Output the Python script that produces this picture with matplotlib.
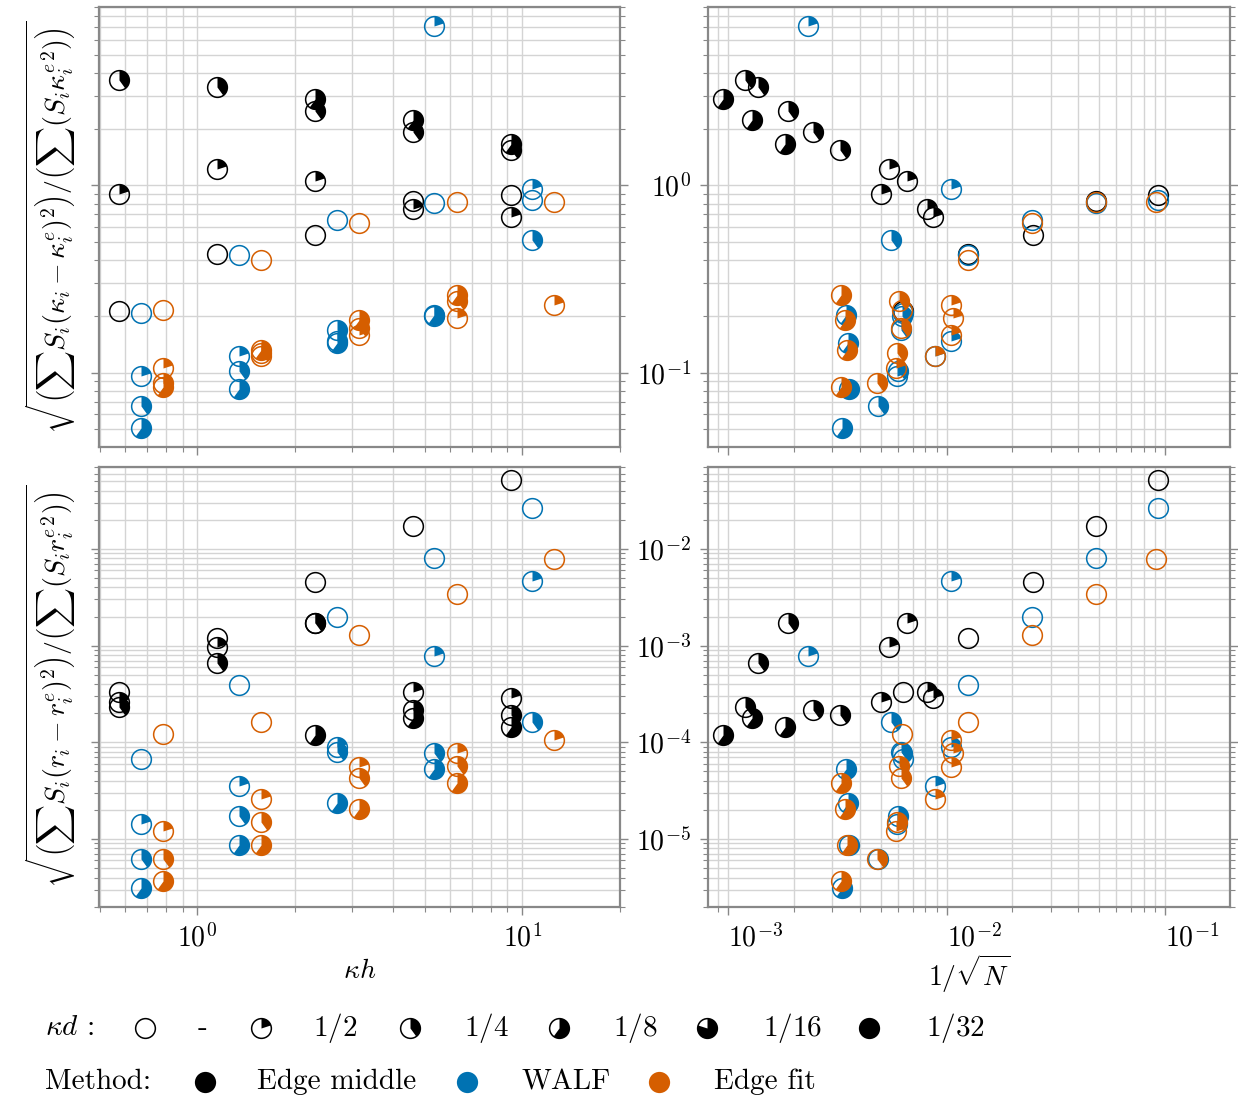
import numpy as np
import matplotlib
matplotlib.use('Agg')
import matplotlib.pyplot as plt
from matplotlib.path import Path
from matplotlib.ticker import NullFormatter

plt.rcParams['font.family'] = 'serif'
plt.rcParams['font.serif'] = ['cmr10']
plt.rcParams['mathtext.fontset'] = 'cm'
plt.rcParams['axes.formatter.use_mathtext'] = True
plt.rcParams['font.size'] = 20

# ---- data -------------------------------------------------------------
kd_labels = ['-', '$1/2$', '$1/4$', '$1/8$', '$1/16$', '$1/32$']
method_names = ['Edge middle', 'WALF', 'Edge fit']
method_colors = ['black', '#0072B2', '#D55E00']
kh_dodge = [1.0, 1.166, 1.364]  # horizontal shift of each method in the left panels

# Edge middle
em_kh = [0.575, 0.575, 0.575, 1.15, 1.15, 1.15, 2.3, 2.3, 2.3, 2.3,
         4.6, 4.6, 4.6, 4.6, 9.2, 9.2, 9.2, 9.2]
em_kd = [0, 1, 2, 0, 1, 2, 0, 1, 2, 3, 0, 1, 2, 3, 0, 1, 2, 3]
em_invN = [6.3e-3, 5.03e-3, 1.19e-3, 1.25e-2, 5.45e-3, 1.37e-3,
           2.48e-2, 6.59e-3, 1.87e-3, 9.47e-4, 4.84e-2, 8.16e-3, 2.44e-3, 1.29e-3,
           9.3e-2, 8.71e-3, 3.24e-3, 1.81e-3]
em_curv = [0.214, 0.902, 3.67, 0.431, 1.23, 3.36, 0.541, 1.05, 2.51, 2.91,
           0.821, 0.747, 1.92, 2.24, 0.89, 0.677, 1.55, 1.67]
em_pos = [3.34e-4, 2.6e-4, 2.31e-4, 1.21e-3, 9.6e-4, 6.6e-4,
          4.59e-3, 1.7e-3, 1.7e-3, 1.19e-4, 1.73e-2, 3.34e-4, 2.14e-4, 1.77e-4,
          5.16e-2, 2.86e-4, 1.92e-4, 1.45e-4]

# WALF
wa_kh = [0.575] * 4 + [1.15] * 4 + [2.3] * 4 + [4.6] * 4 + [9.2] * 3
wa_kd = [0, 1, 2, 3] * 4 + [0, 1, 2]
wa_invN = [6.3e-3, 5.93e-3, 4.84e-3, 3.31e-3,
           1.26e-2, 8.86e-3, 5.97e-3, 3.57e-3,
           2.45e-2, 1.048e-2, 6.19e-3, 3.55e-3,
           4.84e-2, 2.32e-3, 6.23e-3, 3.45e-3,
           9.3e-2, 1.048e-2, 5.59e-3]
wa_curv = [0.209, 0.0964, 0.0667, 0.0508,
           0.426, 0.123, 0.102, 0.0818,
           0.655, 0.148, 0.169, 0.144,
           0.805, 7.08, 0.200, 0.202,
           0.838, 0.957, 0.508]
wa_pos = [6.73e-5, 1.42e-5, 6.22e-6, 3.1e-6,
          3.93e-4, 3.57e-5, 1.71e-5, 8.7e-6,
          2.0e-3, 9.04e-5, 8.0e-5, 2.34e-5,
          8.13e-3, 7.8e-4, 7.7e-5, 5.27e-5,
          2.67e-2, 4.7e-3, 1.64e-4]

# Edge fit
ef_kh = [0.575] * 4 + [1.15] * 4 + [2.3] * 4 + [4.6] * 4 + [9.2] * 2
ef_kd = [0, 1, 2, 3] * 4 + [0, 1]
ef_invN = [6.27e-3, 5.89e-3, 4.81e-3, 3.29e-3,
           1.25e-2, 8.87e-3, 5.93e-3, 3.49e-3,
           2.47e-2, 1.05e-2, 6.21e-3, 3.44e-3,
           4.84e-2, 1.07e-2, 6.06e-3, 3.29e-3,
           9.07e-2, 1.05e-2]
ef_curv = [0.215, 0.1056, 0.0876, 0.0842,
           0.400, 0.122, 0.127, 0.132,
           0.629, 0.159, 0.173, 0.191,
           0.815, 0.195, 0.240, 0.26,
           0.815, 0.230]
ef_pos = [1.22e-4, 1.22e-5, 6.2e-6, 3.7e-6,
          1.64e-4, 2.6e-5, 1.49e-5, 8.7e-6,
          1.29e-3, 5.5e-5, 4.3e-5, 2.05e-5,
          3.43e-3, 7.7e-5, 5.7e-5, 3.78e-5,
          7.9e-3, 1.06e-4]

data = [
    (em_kh, em_kd, em_invN, em_curv, em_pos),
    (wa_kh, wa_kd, wa_invN, wa_curv, wa_pos),
    (ef_kh, ef_kd, ef_invN, ef_curv, ef_pos),
]

MS = 14.2
MEW = 1.1


def wedge(frac, n=72):
    # filled sector starting at 12 o'clock, going clockwise
    if frac >= 1:
        t = np.linspace(np.pi / 2, np.pi / 2 - 2 * np.pi, n + 1)
        verts = np.column_stack([np.cos(t), np.sin(t)])
        codes = [Path.MOVETO] + [Path.LINETO] * (n - 1) + [Path.CLOSEPOLY]
        return Path(verts, codes)
    m = max(int(n * frac), 2)
    t = np.linspace(np.pi / 2, np.pi / 2 - 2 * np.pi * frac, m + 1)
    verts = np.vstack([[0, 0], np.column_stack([np.cos(t), np.sin(t)]), [0, 0]])
    codes = [Path.MOVETO] + [Path.LINETO] * (m + 1) + [Path.CLOSEPOLY]
    return Path(verts, codes)


WEDGES = [None] + [wedge(k / 5) for k in range(1, 6)]


def pie_point(ax, x, y, lvl, color):
    if lvl > 0:
        ax.plot([x], [y], ls='none', marker=WEDGES[lvl], ms=MS,
                mfc=color, mec='none', mew=0)
    ax.plot([x], [y], ls='none', marker='o', ms=MS, mfc='none',
            mec=color, mew=MEW)


# ---- figure -----------------------------------------------------------
fig = plt.figure(figsize=(12.38, 11.02), dpi=100)
lefts = [0.0796, 0.5716]
widths = [0.4213, 0.4220]
bottoms = [0.5946, 0.1773]
H = 0.3993

axes = [[fig.add_axes([lefts[c], bottoms[r], widths[c], H]) for c in range(2)]
        for r in range(2)]

xlims = [(0.496, 20.0), (8.04e-4, 0.199)]
ylims = [(0.0402, 9.0), (2.0e-6, 0.071)]

for r in range(2):
    for c in range(2):
        ax = axes[r][c]
        ax.set_xscale('log')
        ax.set_yscale('log')
        ax.set_xlim(*xlims[c])
        ax.set_ylim(*ylims[r])
        ax.grid(True, which='both', color='#d4d4d4', lw=1.0)
        ax.set_axisbelow(True)
        for s in ax.spines.values():
            s.set_color('#888888')
            s.set_linewidth(1.6)
        ax.tick_params(which='both', direction='out', colors='#888888',
                       labelcolor='black', left=True, right=True,
                       top=False, bottom=True)
        ax.tick_params(which='major', length=6, width=1.0, pad=6)
        ax.tick_params(which='minor', length=3.5, width=0.8)
        ax.tick_params(axis='y', labelleft=(c == 1), labelright=False)
        ax.tick_params(axis='x', labelbottom=(r == 1))
        ax.xaxis.set_minor_formatter(NullFormatter())
        ax.yaxis.set_minor_formatter(NullFormatter())

# right column: the x labels sit to the right of their ticks
for r in range(2):
    axes[r][1].set_xticks([1e-3, 1e-2, 1e-1])
    axes[r][1].set_xlim(*xlims[1])
for lab in axes[1][1].get_xticklabels():
    lab.set_horizontalalignment('left')

for m, (kh, kd, invN, curv, pos) in enumerate(data):
    col = method_colors[m]
    for i in range(len(kh)):
        xk = kh[i] * kh_dodge[m]
        pie_point(axes[0][0], xk, curv[i], kd[i], col)
        pie_point(axes[0][1], invN[i], curv[i], kd[i], col)
        pie_point(axes[1][0], xk, pos[i], kd[i], col)
        pie_point(axes[1][1], invN[i], pos[i], kd[i], col)

axes[0][0].set_ylabel(
    r'$\sqrt{\left(\sum S_i(\kappa_i-\kappa_i^e)^2\right)/\left(\sum(S_i{\kappa_i^e}^2)\right)}$',
    labelpad=8)
axes[1][0].set_ylabel(
    r'$\sqrt{\left(\sum S_i(r_i-r_i^e)^2\right)/\left(\sum(S_i{r_i^e}^2)\right)}$',
    labelpad=8)
axes[1][0].set_xlabel(r'$\kappa h$', labelpad=4)
axes[1][1].set_xlabel(r'$1/\sqrt{N}$', labelpad=0)

# ---- legend (two rows under the panels) -------------------------------
lax = fig.add_axes([0, 0, 1, 0.12])
lax.set_xlim(0, 1238)
lax.set_ylim(1102, 1102 - 0.12 * 1102)
lax.axis('off')

LFS = 21
row1, row2 = 1028, 1082
lax.text(45, row1, r'$\kappa d$ :', va='center', ha='left', fontsize=LFS)
kd_marker_x = [145, 261, 410, 559, 707, 869]
kd_text_x = [198, 313, 464, 613, 763, 926]
for k in range(6):
    pie_point(lax, kd_marker_x[k], row1, k, 'black')
    lax.text(kd_text_x[k], row1, kd_labels[k], va='center', ha='left', fontsize=LFS)

lax.text(45, row2, 'Method:', va='center', ha='left', fontsize=LFS)
m_marker_x = [205, 467, 659]
m_text_x = [257, 522, 714]
for m in range(3):
    lax.plot([m_marker_x[m]], [row2], ls='none', marker='o', ms=MS + MEW,
             mfc=method_colors[m], mec='none')
    lax.text(m_text_x[m], row2, method_names[m], va='center', ha='left', fontsize=LFS)

fig.savefig('out.png', dpi=100)
